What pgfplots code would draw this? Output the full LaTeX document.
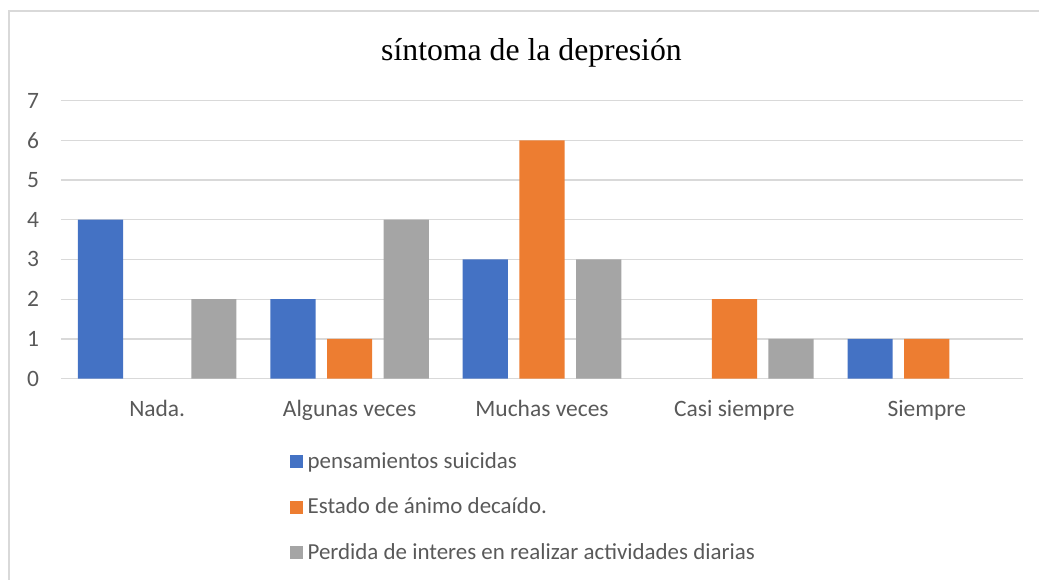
\documentclass[border=0pt]{standalone}
\usepackage{pgfplots}
\pgfplotsset{compat=1.18}
\usepackage{fontspec}
\setmainfont{Carlito}
\newfontfamily\titlefont{Liberation Serif}
\definecolor{cblue}{HTML}{4472C4}
\definecolor{corange}{HTML}{ED7D31}
\definecolor{cgray}{HTML}{A5A5A5}
\definecolor{gridc}{HTML}{D9D9D9}
\definecolor{txt}{HTML}{595959}
\begin{document}
\begin{tikzpicture}
\useasboundingbox (0pt,0pt) rectangle (779.25pt,434.25pt);
\draw[gridc, line width=0.9pt] (6.75pt,-5pt) -- (6.75pt,426pt) -- (790pt,426pt);
\node[anchor=base, inner sep=0pt, font=\titlefont\fontsize{23.8}{28}\selectfont] at (398.6pt,388.5pt) {síntoma de la depresión};
\begin{axis}[
  at={(45.75pt,150.3pt)}, anchor=south west,
  scale only axis, width=721.5pt, height=208.5pt,
  xmin=-0.5, xmax=4.5, ymin=0, ymax=7,
  ytick={0,1,2,3,4,5,6,7},
  xtick={0,1,2,3,4},
  xticklabels={Nada.,Algunas veces,Muchas veces,Casi siempre,Siempre},
  /pgf/number format/assume math mode=true,
  major tick length=0pt,
  ymajorgrids, grid style={gridc, line width=1pt},
  axis x line*=bottom, axis y line*=left,
  x axis line style={gridc, line width=1pt, -},
  y axis line style={draw=none},
  ticklabel style={font=\fontsize{17.6}{21}\selectfont, text=txt},
  yticklabel style={anchor=east, inner sep=0pt, xshift=-16.3pt},
  xticklabel style={anchor=base, inner sep=0pt, yshift=-28.6pt},
  ybar, bar width=33.9pt,
  legend style={at={(0.238,-0.26)}, anchor=north west, draw=none, fill=none,
    inner sep=0pt, row sep=17.1pt, column sep=3.3pt,
    font=\fontsize{17.2}{21}\selectfont, text=txt,
    nodes={inner sep=0pt, text height=13pt, text depth=4pt, anchor=base west}},
  legend cell align=left,
  legend image code/.code={\fill[#1] (0pt,0pt) rectangle (9.75pt,9.75pt);},
]
\addplot[fill=cblue, draw=none, bar shift=-42.5pt] coordinates {(0,4) (1,2) (2,3) (4,1)};
\addplot[fill=corange, draw=none, bar shift=0pt] coordinates {(1,1) (2,6) (3,2) (4,1)};
\addplot[fill=cgray, draw=none, bar shift=42.5pt] coordinates {(0,2) (1,4) (2,3) (3,1)};
\legend{pensamientos suicidas, Estado de ánimo decaído., Perdida de interes en realizar actividades diarias}
\end{axis}
\end{tikzpicture}
\end{document}
